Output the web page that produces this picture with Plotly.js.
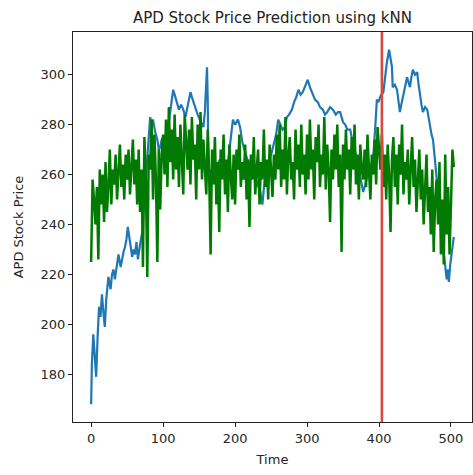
<!DOCTYPE html>
<html>
<head>
<meta charset="utf-8">
<script src="https://cdn.plot.ly/plotly-3.0.1.min.js"></script>
<style>html,body{margin:0;padding:0;background:#fff;}#chart{width:473px;height:475px;}</style>
</head>
<body>
<div id="chart"></div>
<script>
// Actual price (blue): time index and value
const actualT = [0,1,3,5,7,9,11,13,15,17,19,21,24,27,29,31,33,36,38,41,43,45,47,49,51,54,57,59,61,63,65,68,71,73,75,77,79,81,82,84,86,89,92,94,96,98,100,103,106,108,110,112,114,117,119,122,125,128,131,134,138,140,142,145,148,151,154,156,158,161,162,163,166,169,172,175,179,182,185,189,192,195,197,200,204,207,210,213,217,221,225,229,232,235,238,240,242,245,248,251,254,257,260,263,266,269,272,275,279,282,285,288,291,294,297,301,304,308,311,315,318,322,325,328,332,336,340,343,346,350,353,356,360,364,369,372,375,378,381,383,386,389,392,395,397,399,401,403,406,408,411,414,416,418,419,422,425,427,429,431,433,436,439,441,443,445,447,450,453,455,457,459,461,464,467,469,471,473,475,478,481,483,485,487,489,491,494,496,497,499,501,503,504];
const actualV = [168,184,196,186,179,195,207,203,212,205,199,210,219,214,220,222,218,224,228,223,227,229,231,234,239,232,227,230,228,233,226,232,237,246,255,264,273,279,283,280,282,277,274,270,271,274,275,272,279,281,286,290,294,291,289,286,288,286,283,288,293,291,289,286,284,282,280,279,285,303,290,259,262,258,262,264,266,263,260,262,270,278,282,280,282,279,273,270,266,264,262,258,255,253,248,255,261,264,266,269,272,276,282,280,278,279,283,284,286,289,291,294,292,293,295,298,295,292,290,289,287,286,284,285,287,286,284,285,285,281,280,278,278,272,267,262,258,253,256,259,262,264,267,280,290,289,291,292,293,299,305,310,306,303,295,296,294,289,285,288,291,295,299,297,295,299,302,300,301,296,291,288,285,287,286,282,278,276,274,266,258,250,243,236,230,226,218,222,217,224,230,233,235];

// Predicted price (green), one value every 2 time steps from 0 to 504
const predStep = 2;
const predV = [
225,258,250,240,255,226,262,248,260,241,
265,245,255,270,248,262,256,268,250,260,
272,255,264,250,268,258,270,252,262,274,
256,266,248,270,245,262,223,275,258,219,
268,262,282,250,276,258,225,270,246,268,
276,260,282,255,287,265,278,258,284,262,
275,255,280,268,252,284,270,262,278,256,
283,266,272,250,280,262,285,258,274,265,
252,278,260,228,270,256,275,248,265,237,
270,258,276,252,266,245,272,260,250,268,
248,270,262,276,255,265,258,272,250,266,
239,268,258,275,252,262,270,248,265,258,
278,255,266,250,272,262,251,268,258,276,
262,280,255,270,258,283,252,268,275,258,
265,250,278,262,272,255,280,260,268,252,
276,258,282,262,270,250,275,265,280,255,
268,260,283,254,272,262,241,270,258,276,
262,280,255,268,229,272,258,278,262,270,
252,275,262,280,256,268,250,272,262,258,
270,255,276,262,250,268,260,274,256,279,
270,262,276,255,268,250,272,260,237,266,
275,255,268,248,272,260,280,252,265,258,
270,248,262,275,255,266,245,260,270,250,
262,240,258,268,245,255,236,262,229,250,
258,240,265,228,250,224,268,236,255,228,
248,270,263];
const predT = predV.map((_, i) => i * predStep);

const splitTime = 404;

const font = "DejaVu Sans, sans-serif";
const traces = [
  {x: actualT, y: actualV, type: 'scatter', mode: 'lines', line: {color: '#1f77b4', width: 2.2}, showlegend: false},
  {x: predT, y: predV, type: 'scatter', mode: 'lines', line: {color: '#007a00', width: 2.5}, showlegend: false},
  {x: [splitTime, splitTime], y: [0, 1], yaxis: 'y2', type: 'scatter', mode: 'lines', line: {color: '#d64a40', width: 2.6}, showlegend: false, hoverinfo: 'skip'}
];

const axisCommon = {
  showgrid: false, zeroline: false, showline: true, mirror: true,
  linecolor: '#222', linewidth: 1, ticks: 'outside', ticklen: 4, tickwidth: 1, tickcolor: '#222',
  tickfont: {family: font, size: 13, color: '#262626'}
};

const layout = {
  width: 473, height: 475,
  margin: {l: 73, r: 1, t: 32, b: 53},
  paper_bgcolor: '#fff', plot_bgcolor: '#fff',
  title: {text: 'APD Stock Price Prediction using kNN', font: {family: font, size: 15, color: '#222'}, x: 0.576, xanchor: 'center', y: 0.962, yanchor: 'middle'},
  xaxis: Object.assign({}, axisCommon, {range: [-25.2, 529.2], tickvals: [0,100,200,300,400,500],
    title: {text: 'Time', font: {family: font, size: 13, color: '#262626'}, standoff: 10}}),
  yaxis: Object.assign({}, axisCommon, {range: [160.9, 317.1], tickvals: [180,200,220,240,260,280,300],
    title: {text: 'APD Stock Price', font: {family: font, size: 13, color: '#262626'}, standoff: 14}}),
  yaxis2: {overlaying: 'y', range: [0, 1], visible: false, fixedrange: true},
  showlegend: false
};

Plotly.newPlot('chart', traces, layout, {staticPlot: true, displayModeBar: false});
</script>
</body>
</html>
